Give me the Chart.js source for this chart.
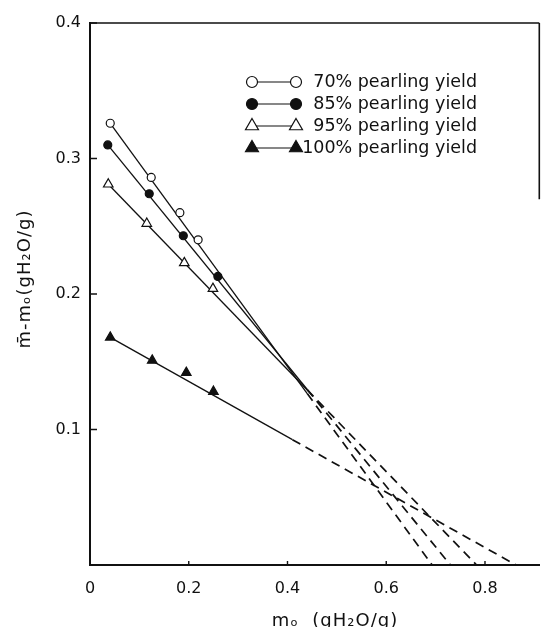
<!doctype html>
<html><head>
<meta charset="utf-8">
<script src="https://cdn.jsdelivr.net/npm/chart.js"></script>
<style type="text/css">
html, body { margin: 0; padding: 0; background: #fff; }
#holder { width: 546px; height: 627px; position: relative; }
</style>
</head>
<body>
<div id="holder"><canvas id="myChart"></canvas></div>

<script type="text/javascript">
// measured points (m0, mbar - m0)
var seriesLabels = ['70% pearling yield', '85% pearling yield', '95% pearling yield', '100% pearling yield'];
var x70 = [0.041, 0.124, 0.182, 0.219];
var y70 = [0.326, 0.286, 0.260, 0.240];
var x85 = [0.036, 0.120, 0.189, 0.259];
var y85 = [0.310, 0.274, 0.243, 0.213];
var x95 = [0.037, 0.115, 0.191, 0.249];
var y95 = [0.281, 0.252, 0.223, 0.204];
var x100 = [0.041, 0.126, 0.195, 0.250];
var y100 = [0.168, 0.151, 0.142, 0.128];

// fitted lines: start, end of solid part, x-axis intercept
var fitX70 = [0.041, 0.44, 0.693];
var fitY70 = [0.326, 0.1265, 0];
var fitX85 = [0.036, 0.44, 0.730];
var fitY85 = [0.310, 0.1295, 0];
var fitX95 = [0.037, 0.44, 0.783];
var fitY95 = [0.281, 0.1292, 0];
var fitX100 = [0.041, 0.41, 0.863];
var fitY100 = [0.168, 0.0925, 0];

var xTicks = [0, 0.2, 0.4, 0.6, 0.8];
var yTicks = [0.1, 0.2, 0.3, 0.4];
var xTickLabels = ['0', '0.2', '0.4', '0.6', '0.8'];
var yTickLabels = ['0.1', '0.2', '0.3', '0.4'];

var xTitle = 'm\u2092  (gH\u2082O/g)';
var yTitle = 'm\u0304-m\u2092(gH\u2082O/g)';

var ink = '#111';
var font = '"DejaVu Sans", sans-serif';

function pts(xs, ys) {
    return xs.map(function(x, i) { return {x: x, y: ys[i]}; });
}

var markerStyles = [
    {pointStyle: 'circle', radius: 4, fill: '#fff'},
    {pointStyle: 'circle', radius: 4, fill: ink},
    {pointStyle: 'triangle', radius: 5.5, fill: '#fff'},
    {pointStyle: 'triangle', radius: 5.5, fill: ink}
];
var pointSets = [pts(x70, y70), pts(x85, y85), pts(x95, y95), pts(x100, y100)];
var fitSets = [pts(fitX70, fitY70), pts(fitX85, fitY85), pts(fitX95, fitY95), pts(fitX100, fitY100)];

var datasets = [];
pointSets.forEach(function(p, i) {
    var m = markerStyles[i];
    datasets.push({
        label: seriesLabels[i],
        data: p,
        showLine: false,
        pointStyle: m.pointStyle,
        pointRadius: m.radius,
        pointBackgroundColor: m.fill,
        pointBorderColor: ink,
        pointBorderWidth: 1.2,
        order: 0
    });
});
fitSets.forEach(function(f) {
    // solid part
    datasets.push({
        data: f.slice(0, 2),
        showLine: true,
        borderColor: ink,
        borderWidth: 1.3,
        pointRadius: 0,
        order: 1
    });
    // dashed extrapolation
    datasets.push({
        data: f.slice(1),
        showLine: true,
        borderColor: ink,
        borderWidth: 1.7,
        borderDash: [9, 6],
        pointRadius: 0,
        order: 1
    });
});

var extras = {
    id: 'extras',
    afterDatasetsDraw: function(chart) {
        var ctx = chart.ctx;
        var a = chart.chartArea;
        var xs = chart.scales.x, ys = chart.scales.y;
        ctx.save();
        ctx.strokeStyle = ink;
        ctx.fillStyle = ink;

        // top frame and the visible piece of the right frame
        ctx.lineWidth = 1.6;
        ctx.beginPath();
        ctx.moveTo(a.left, a.top);
        ctx.lineTo(a.right, a.top);
        ctx.moveTo(a.right, a.top);
        ctx.lineTo(a.right, ys.getPixelForValue(0.27));
        ctx.stroke();

        // inward tick marks
        ctx.lineWidth = 1.4;
        ctx.beginPath();
        yTicks.forEach(function(v) {
            var py = ys.getPixelForValue(v);
            ctx.moveTo(a.left, py);
            ctx.lineTo(a.left + 7, py);
        });
        xTicks.forEach(function(v) {
            if (v === 0) return;
            var px = xs.getPixelForValue(v);
            ctx.moveTo(px, a.bottom);
            ctx.lineTo(px, a.bottom - 4);
        });
        ctx.stroke();

        // legend: marker -- marker  label
        var rowY = [82, 104, 126, 148];
        ctx.font = '17.5px ' + font;
        ctx.textAlign = 'right';
        ctx.textBaseline = 'middle';
        seriesLabels.forEach(function(lbl, i) {
            var m = markerStyles[i];
            var y = rowY[i];
            ctx.lineWidth = 1.2;
            ctx.beginPath();
            ctx.moveTo(252, y);
            ctx.lineTo(296, y);
            ctx.stroke();
            [252, 296].forEach(function(x) {
                ctx.fillStyle = m.fill;
                ctx.strokeStyle = ink;
                ctx.lineWidth = 1.2;
                Chart.helpers.drawPoint(ctx, {
                    pointStyle: m.pointStyle,
                    radius: m.pointStyle === 'circle' ? 5.5 : 7.5,
                    rotation: 0,
                    borderWidth: 1.2
                }, x, y);
            });
            ctx.fillStyle = ink;
            ctx.fillText(lbl, 477, y);
        });

        // axis titles
        ctx.font = '18px ' + font;
        ctx.letterSpacing = '1px';
        ctx.textAlign = 'center';
        ctx.fillText(xTitle, 335, 621);
        ctx.translate(25, 279);
        ctx.rotate(-Math.PI / 2);
        ctx.fillText(yTitle, 0, 0);
        ctx.restore();
    }
};

var myChart = new Chart(document.getElementById('myChart'), {
    type: 'scatter',
    data: {datasets: datasets},
    options: {
        responsive: true,
        maintainAspectRatio: false,
        animation: false,
        layout: {padding: {top: 23, right: 1, left: 0, bottom: 0}},
        plugins: {legend: {display: false}, tooltip: {enabled: false}},
        scales: {
            x: {
                type: 'linear',
                min: 0,
                max: 0.91,
                grid: {display: false, drawTicks: false},
                border: {display: true, color: ink, width: 2},
                ticks: {
                    color: ink,
                    font: {family: font, size: 16},
                    padding: 14,
                    callback: function(v) {
                        var i = xTicks.indexOf(v);
                        return i < 0 ? '' : xTickLabels[i];
                    }
                },
                afterBuildTicks: function(s) { s.ticks = xTicks.map(function(v) { return {value: v}; }); },
                afterFit: function(s) { s.height = 62; s.paddingLeft = 0; s.paddingRight = 0; }
            },
            y: {
                type: 'linear',
                min: 0,
                max: 0.4,
                grid: {display: false, drawTicks: false},
                border: {display: true, color: ink, width: 2},
                ticks: {
                    color: ink,
                    font: {family: font, size: 16},
                    padding: 9,
                    callback: function(v) {
                        var i = yTicks.indexOf(v);
                        return i < 0 ? '' : yTickLabels[i];
                    }
                },
                afterBuildTicks: function(s) { s.ticks = yTicks.map(function(v) { return {value: v}; }); },
                afterFit: function(s) { s.width = 90; s.paddingTop = 0; s.paddingBottom = 0; }
            }
        }
    },
    plugins: [extras]
});
</script>
</body>
</html>
